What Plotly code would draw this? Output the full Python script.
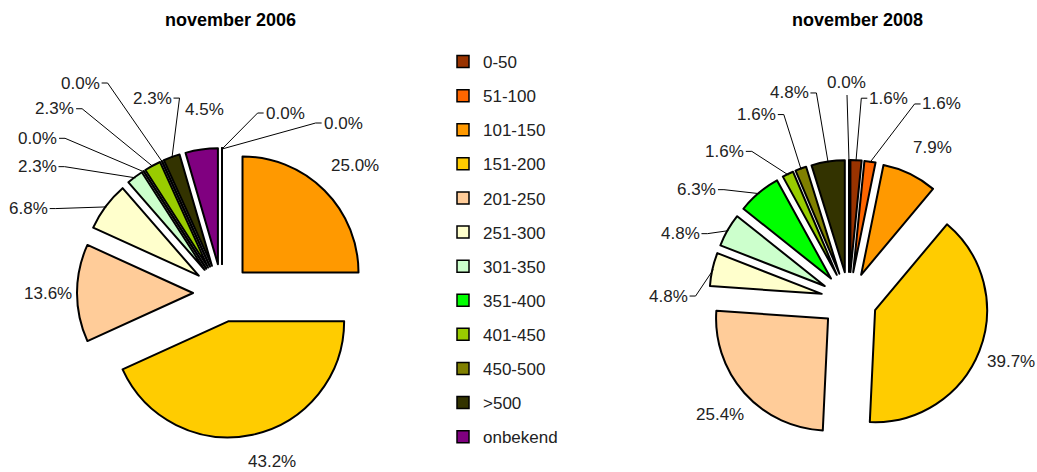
import math

import plotly.graph_objects as go

W, H = 1037, 472

categories = ["0-50", "51-100", "101-150", "151-200", "201-250", "251-300",
              "301-350", "351-400", "401-450", "450-500", ">500", "onbekend"]
pct_2006 = [0.0, 0.0, 25.0, 43.2, 13.6, 6.8, 2.3, 0.0, 2.3, 0.0, 2.3, 4.5]
pct_2008 = [1.6, 1.6, 7.9, 39.7, 25.4, 4.8, 4.8, 6.3, 1.6, 1.6, 4.8, 0.0]
titles = ["november 2006", "november 2008"]

colors = ["#993300", "#FF6600", "#FF9900", "#FFCC00", "#FFCC99", "#FFFFCC",
          "#CCFFCC", "#00FF00", "#99CC00", "#808000", "#333300", "#800080"]

PULL = 0.25
LABEL_GAP = 33
FONT = "Liberation Sans, Arial, sans-serif"
LABEL_SIZE = 17
EDGE = dict(color="black", width=2)

# pie placement in px (centre and outer half size) plus manual label nudges
pies = [
    dict(values=pct_2006, title=titles[0], cx=222, cy=293, half=145,
         nudges=[(63, -2), (121, 8), (7, -2), (12, -5), (4, 0), (-51, 22),
                 (-78, 16), (-88, -5), (-82, -28), (-68, -48), (-8, -28), (8, -7)],
         leaders=[1, 1, 0, 0, 0, 1, 1, 1, 1, 1, 1, 0]),
    dict(values=pct_2008, title=titles[1], cx=849, cy=300, half=140,
         nudges=[(31, -29), (67, -25), (8, 3), (1, -1), (0, 0), (-12, 34),
                 (-19, 20), (-41, 22), (-49, 7), (-33, -23), (-34, -36), (-2, -44)],
         leaders=[1, 1, 0, 0, 0, 1, 1, 1, 1, 1, 1, 1]),
]

CHAR_W = {".": 0.278, "%": 0.889}


def text_width(s, size):
    return sum(CHAR_W.get(ch, 0.556) for ch in s) * size


def px(x, y):
    return x / W, 1 - y / H


def path_of(pts):
    return "M " + " L ".join(f"{px(a, b)[0]},{px(a, b)[1]}" for a, b in pts)


fig = go.Figure()
annotations = []
shapes = []

for p in pies:
    x0, y0 = px(p["cx"] - p["half"], p["cy"] + p["half"])
    x1, y1 = px(p["cx"] + p["half"], p["cy"] - p["half"])
    fig.add_trace(go.Pie(
        labels=categories,
        values=p["values"],
        sort=False,
        direction="clockwise",
        rotation=0,
        pull=[PULL] * len(categories),
        marker=dict(colors=colors, line=EDGE),
        textinfo="none",
        showlegend=False,
        domain=dict(x=[x0, x1], y=[y0, y1]),
    ))
    tx, ty = px(p["cx"] + 8, 20)
    annotations.append(dict(x=tx, y=ty, xref="paper", yref="paper", text=f"<b>{p['title']}</b>",
                            xanchor="center", yanchor="middle",
                            showarrow=False, font=dict(size=18, color="black")))

    total = sum(p["values"])
    cum = 0.0
    outer = p["half"]
    radius = outer / (1 + PULL)
    for i, v in enumerate(p["values"]):
        mid = (cum + v / 2) / total * 2 * math.pi
        cum += v
        dx, dy = math.sin(mid), -math.cos(mid)
        if v == 0:
            # empty slice still shows as an outlined spoke
            inner = radius * PULL
            shapes.append(dict(type="path", xref="paper", yref="paper", line=EDGE,
                               path=path_of([(p["cx"] + inner * dx, p["cy"] + inner * dy),
                                             (p["cx"] + outer * dx, p["cy"] + outer * dy)])))
        r_lab = outer + LABEL_GAP
        lx = p["cx"] + r_lab * dx + p["nudges"][i][0]
        ly = p["cy"] + r_lab * dy + p["nudges"][i][1]
        label = f"{v:.1f}%"
        ax, ay = px(lx, ly)
        annotations.append(dict(x=ax, y=ay, xref="paper", yref="paper", text=label, showarrow=False,
                                xanchor="center", yanchor="middle",
                                font=dict(size=LABEL_SIZE, color="#222222")))
        if p["leaders"][i]:
            tgx = p["cx"] + (outer - 1) * dx
            tgy = p["cy"] + (outer - 1) * dy
            hw = text_width(label, LABEL_SIZE) / 2
            if tgx > lx + hw:
                pts = [(lx + hw + 2, ly), (lx + hw + 8, ly), (tgx, tgy)]
            elif tgx < lx - hw:
                pts = [(lx - hw - 2, ly), (lx - hw - 8, ly), (tgx, tgy)]
            else:
                pts = [(lx, ly + 12), (tgx, tgy)]
            shapes.append(dict(type="path", path=path_of(pts), xref="paper", yref="paper",
                               line=dict(color="black", width=1)))

# legend entries
for name, col in zip(categories, colors):
    fig.add_trace(go.Scatter(
        x=[None], y=[None], mode="markers", name=name, legendgroup=name,
        marker=dict(symbol="square", size=12, color=col, line=dict(color="black", width=1.5)),
    ))

leg_x, leg_y = px(443, 44)
fig.update_xaxes(visible=False)
fig.update_yaxes(visible=False)
fig.update_layout(
    width=W,
    height=H,
    margin=dict(l=0, r=0, t=0, b=0),
    paper_bgcolor="white",
    plot_bgcolor="white",
    font=dict(family=FONT, color="black"),
    annotations=annotations,
    shapes=shapes,
    legend=dict(x=leg_x, y=leg_y, xanchor="left", yanchor="top",
                font=dict(size=17, color="#222222"), tracegroupgap=9,
                bgcolor="rgba(0,0,0,0)"),
)

# drop the default page margin so the figure sits at the window origin
fig.write_html("out.html", config={"displayModeBar": False},
               post_script="document.body.style.margin = '0px';")
